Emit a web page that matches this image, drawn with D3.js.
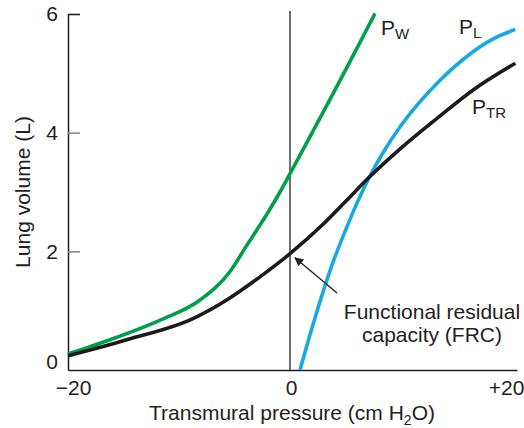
<!DOCTYPE html>
<html>
<head>
<meta charset="utf-8">
<script src="https://cdn.jsdelivr.net/npm/d3@7"></script>
<style>
  html, body { margin: 0; padding: 0; background: #fff; }
  svg { display: block; }
  text { font-family: "Liberation Sans", Arial, Helvetica, sans-serif; fill: #231f20; }
</style>
</head>
<body>
<svg id="chart" width="524" height="428"></svg>
<script>
// ---- data ----
const pwX  = [-20, -16.2, -11.7, -8.1, -5.4, -3.9, -2.1, -0.9, 0.15, 2.0, 4.0, 5.8, 7.66];
const pwY  = [0.27, 0.51, 0.84, 1.18, 1.66, 2.1, 2.62, 3.0, 3.36, 4.0, 4.7, 5.34, 6.01];
const ptrX = [-20, -14.7, -8.7, -5.7, -2.7, 0, 3.0, 5.0, 7.2, 10.0, 13.5, 16.5, 20.3];
const ptrY = [0.24, 0.51, 0.87, 1.18, 1.57, 1.96, 2.46, 2.84, 3.26, 3.74, 4.28, 4.72, 5.17];
const plX  = [0.9, 2.0, 3.0, 4.0, 5.1, 6.0, 7.2, 8.5, 10.0, 11.7, 13.5, 15.9, 18.3, 20.3];
const plY  = [0, 0.72, 1.33, 1.88, 2.4, 2.8, 3.27, 3.7, 4.12, 4.52, 4.88, 5.28, 5.58, 5.74];
const xTicks = [-20, 0, 20];
const xTickLabels = ["\u221220", "0", "+20"];
const yTicks = [0, 2, 4, 6];
const frc = [0, 1.96];

const svg = d3.select("#chart");
const x = d3.scaleLinear().domain([-20, 20.45]).range([68, 517]);
const y = d3.scaleLinear().domain([0, 6]).range([370, 14]);

const FS = 21;

// vertical zero line
svg.append("line")
  .attr("x1", x(0)).attr("x2", x(0))
  .attr("y1", y(6) - 3).attr("y2", y(0))
  .attr("stroke", "#333").attr("stroke-width", 1.4);

// y axis
const yAxis = d3.axisLeft(y).tickValues(yTicks).tickSizeInner(-12).tickSizeOuter(0).tickPadding(10)
  .tickFormat(d3.format("d"));
const gy = svg.append("g").attr("transform", `translate(${x(-20)},0)`).call(yAxis);
gy.select(".domain").attr("stroke", "#231f20").attr("stroke-width", 1.5);
gy.selectAll(".tick line").attr("stroke", d => d === 6 ? "#231f20" : "#8a8a8a").attr("stroke-width", 1.6)
  .attr("display", d => d === 0 ? "none" : null);
gy.selectAll(".tick text").attr("font-size", FS).attr("fill", "#231f20")
  .attr("font-family", "Liberation Sans, Arial, sans-serif")
  .attr("dy", d => d === 0 ? "-0.05em" : "0.32em");

// x axis
const xAxis = d3.axisBottom(x).tickValues(xTicks).tickSize(0).tickPadding(10)
  .tickFormat((d, i) => xTickLabels[i]);
const gx = svg.append("g").attr("transform", `translate(0,${y(0)})`).call(xAxis);
gx.select(".domain").attr("stroke", "#231f20").attr("stroke-width", 1.5);
gx.selectAll(".tick text").attr("font-size", FS).attr("fill", "#231f20")
  .attr("font-family", "Liberation Sans, Arial, sans-serif")
  .attr("dx", (d, i) => i === 0 ? 5 : (i === 2 ? -6 : 1));

// axis titles
svg.append("text")
  .attr("x", 292).attr("y", 420)
  .attr("text-anchor", "middle").attr("font-size", FS)
  .call(t => {
    t.append("tspan").text("Transmural pressure (cm H");
    t.append("tspan").text("2").attr("font-size", 14).attr("dy", 5);
    t.append("tspan").text("O)").attr("dy", -5);
  });
svg.append("text")
  .attr("transform", `translate(30,${(y(0) + y(6)) / 2}) rotate(-90)`)
  .attr("text-anchor", "middle").attr("font-size", FS)
  .text("Lung volume (L)");

// curves
const line = d3.line().x(d => x(d[0])).y(d => y(d[1])).curve(d3.curveMonotoneX);
const series = [
  { xs: pwX,  ys: pwY,  color: "#00a04b" },
  { xs: plX,  ys: plY,  color: "#16aae4" },
  { xs: ptrX, ys: ptrY, color: "#1c1a1b" }
];
series.forEach(s => {
  svg.append("path")
    .datum(s.xs.map((v, i) => [v, s.ys[i]]))
    .attr("d", line)
    .attr("fill", "none")
    .attr("stroke", s.color)
    .attr("stroke-width", 3.6)
    .attr("stroke-linecap", "butt");
});

// curve labels
function subLabel(px, py, main, sub) {
  const t = svg.append("text").attr("x", px).attr("y", py).attr("font-size", FS);
  t.append("tspan").text(main);
  t.append("tspan").text(sub).attr("font-size", 15).attr("dy", 4);
}
subLabel(381, 35, "P", "W");
subLabel(459, 34, "P", "L");
subLabel(472, 114, "P", "TR");

// FRC annotation
svg.append("defs").append("marker")
  .attr("id", "arr").attr("viewBox", "0 0 10 10").attr("refX", 9).attr("refY", 5)
  .attr("markerWidth", 11).attr("markerHeight", 9).attr("markerUnits", "userSpaceOnUse")
  .attr("orient", "auto")
  .append("path").attr("d", "M0,0 L10,5 L0,10 Z").attr("fill", "#231f20");
svg.append("line")
  .attr("x1", 337).attr("y1", 293)
  .attr("x2", x(frc[0]) + 5).attr("y2", y(frc[1]) + 4)
  .attr("stroke", "#231f20").attr("stroke-width", 1.3)
  .attr("marker-end", "url(#arr)");
const ft = svg.append("text").attr("text-anchor", "middle").attr("font-size", FS);
ft.append("tspan").attr("x", 432).attr("y", 319).text("Functional residual");
ft.append("tspan").attr("x", 432).attr("y", 342).text("capacity (FRC)");
</script>
</body>
</html>
